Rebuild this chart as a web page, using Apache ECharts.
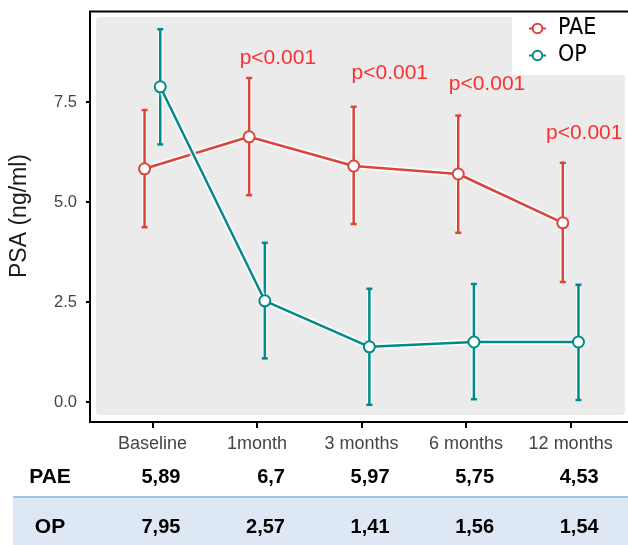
<!DOCTYPE html>
<html><head><meta charset="utf-8">
<script src="https://cdn.jsdelivr.net/npm/echarts@6/dist/echarts.min.js"></script>
<style>html,body{margin:0;padding:0;background:#fff}#c{width:628px;height:545px}</style>
</head><body><div id="c"></div>
<script>
// ---- data ----
var categories = ['Baseline', '1month', '3 months', '6 months', '12 months'];
var paeMean = [5.83, 6.63, 5.90, 5.70, 4.48];
var paeLow  = [4.37, 5.17, 4.45, 4.23, 3.00];
var paeHigh = [7.30, 8.10, 7.38, 7.16, 5.98];
var opMean  = [7.88, 2.53, 1.38, 1.50, 1.50];
var opLow   = [6.44, 1.09, -0.07, 0.07, 0.05];
var opHigh  = [9.32, 3.98, 2.83, 2.95, 2.93];
var yTicks = [0, 2.5, 5, 7.5];
var pLabels = ['p<0.001', 'p<0.001', 'p<0.001', 'p<0.001'];
var pLabelAnchor = [[1.2, 8.6], [2.27, 8.22], [3.2, 7.95], [4.13, 6.72]];
var tableRowNames = ['PAE', 'OP'];
var tablePAE = ['5,89', '6,7', '5,97', '5,75', '4,53'];
var tableOP  = ['7,95', '2,57', '1,41', '1,56', '1,54'];
var dodge = 0.075;

// ---- styles ----
var RED = '#d8453a', TEAL = '#008b8b';
var FONT = "'Liberation Sans', Arial, sans-serif";
var NARROW = "'Liberation Sans Narrow', 'DejaVu Sans Condensed', sans-serif";

function pts(means, off) { return means.map(function (v, i) { return [i + off, v]; }); }
function bars(lo, hi, off) { return lo.map(function (v, i) { return [i + off, v, hi[i]]; }); }

function errRender(color) {
  return function (params, api) {
    var x = api.value(0);
    var a = api.coord([x, api.value(2)]), b = api.coord([x, api.value(1)]);
    var cw = 3;
    var halo = { stroke: '#ffffff', lineWidth: 5, opacity: 0.8 };
    var st = { stroke: color, lineWidth: 2.5 };
    return { type: 'group', children: [
      { type: 'line', shape: { x1: a[0], y1: a[1], x2: b[0], y2: b[1] }, style: halo },
      { type: 'line', shape: { x1: a[0], y1: a[1], x2: b[0], y2: b[1] }, style: st },
      { type: 'line', shape: { x1: a[0] - cw, y1: a[1], x2: a[0] + cw, y2: a[1] }, style: st },
      { type: 'line', shape: { x1: b[0] - cw, y1: b[1], x2: b[0] + cw, y2: b[1] }, style: st }
    ]};
  };
}

function lineSeries(name, data, color, z) {
  return {
    name: name, type: 'line', data: data, z: z,
    symbol: 'circle', symbolSize: 11,
    itemStyle: { color: '#ffffff', borderColor: color, borderWidth: 2 },
    lineStyle: { color: color, width: 2.5, shadowColor: '#ffffff', shadowBlur: 4 },
    emphasis: { disabled: true }, animation: false
  };
}
function haloSeries(data, z) {
  return {
    type: 'line', data: data, z: z, symbol: 'none', silent: true,
    lineStyle: { color: '#ffffff', width: 5.5, opacity: 0.85 }, animation: false
  };
}

var chart = echarts.init(document.getElementById('c'), null, { renderer: 'canvas' });
var option = {
  animation: false,
  textStyle: { fontFamily: FONT },
  grid: { left: 96, top: 17, width: 529, height: 398, containLabel: false },
  xAxis: {
    type: 'value', min: -0.53, max: 4.52, offset: 7,
    splitLine: { show: false },
    axisLine: { show: false, onZero: false },
    axisTick: { show: true, length: 6, customValues: [0, 1, 2, 3, 4], lineStyle: { color: '#000', width: 2 } },
    axisLabel: { customValues: [0, 1, 2, 3, 4], margin: 13, fontSize: 18, color: '#444',
      fontFamily: FONT, formatter: function (v) { return categories[Math.round(v)]; } }
  },
  yAxis: {
    type: 'value', min: -0.325, max: 9.625, offset: 6,
    name: 'PSA (ng/ml)', nameLocation: 'middle', nameGap: 60,
    nameTextStyle: { fontSize: 23, color: '#1a1a1a', fontFamily: FONT },
    splitLine: { show: false },
    axisLine: { show: false, onZero: false },
    axisTick: { show: true, length: 5, customValues: yTicks, lineStyle: { color: '#000', width: 2 } },
    axisLabel: { customValues: yTicks, margin: 14, fontSize: 16.5, color: '#444', fontFamily: FONT,
      formatter: function (v) { return v.toFixed(1); } }
  },
  legend: {
    data: ['PAE', 'OP'], orient: 'vertical', left: 528, top: 16, padding: 0,
    itemWidth: 17, itemHeight: 12, itemGap: 2,
    textStyle: { fontSize: 23, lineHeight: 25, color: '#000', fontFamily: NARROW, padding: [0, 0, 0, 7] },
    selectedMode: false
  },
  graphic: [
    { type: 'rect', z: -10, shape: { x: 96, y: 17, width: 529, height: 398, r: 4 }, style: { fill: '#ebebeb' } },
    { type: 'rect', z: -5, shape: { x: 512, y: 17, width: 116, height: 58 }, style: { fill: '#ffffff' } },
    { type: 'rect', z: 5, shape: { x: 90, y: 11.5, width: 600, height: 410.5 }, style: { fill: 'none', stroke: '#000', lineWidth: 2 } }
  ],
  series: [
    { name: 'PAE_err', type: 'custom', z: 2, data: bars(paeLow, paeHigh, -dodge), renderItem: errRender(RED), silent: true },
    haloSeries(pts(paeMean, -dodge), 2),
    lineSeries('PAE', pts(paeMean, -dodge), RED, 3),
    { name: 'OP_err', type: 'custom', z: 4, data: bars(opLow, opHigh, dodge), renderItem: errRender(TEAL), silent: true },
    haloSeries(pts(opMean, dodge), 4),
    lineSeries('OP', pts(opMean, dodge), TEAL, 5),
    { name: 'pvals', type: 'scatter', z: 6, symbolSize: 1, silent: true,
      itemStyle: { color: 'rgba(0,0,0,0)' },
      data: pLabelAnchor.map(function (p, i) { return { value: p, label: { formatter: pLabels[i] } }; }),
      label: { show: true, position: 'inside', color: '#ff0000', fontSize: 21, fontFamily: FONT } }
  ]
};
chart.setOption(option);

// ---- table below the chart, aligned to the x axis ----
var g = option.graphic.slice();
g.push({ type: 'rect', z: -5, shape: { x: 13, y: 498, width: 615, height: 47 }, style: { fill: '#dde8f4' } });
g.push({ type: 'rect', z: -4, shape: { x: 13, y: 496, width: 615, height: 2 }, style: { fill: '#9fc3e6' } });
var rowsY = [477, 527];
var rowsVals = [tablePAE, tableOP];
tableRowNames.forEach(function (nm, r) {
  g.push({ type: 'text', z: 10, style: { text: nm, x: 50, y: rowsY[r], align: 'center', verticalAlign: 'middle',
    font: 'bold 21px ' + FONT, fill: '#000' } });
  rowsVals[r].forEach(function (t, i) {
    var px = chart.convertToPixel({ xAxisIndex: 0 }, i);
    g.push({ type: 'text', z: 10, style: { text: t, x: px + 28, y: rowsY[r], align: 'right', verticalAlign: 'middle',
      font: 'bold 20px ' + FONT, fill: '#000' } });
  });
});
chart.setOption({ graphic: g }, { replaceMerge: ['graphic'] });
</script>
</body></html>
